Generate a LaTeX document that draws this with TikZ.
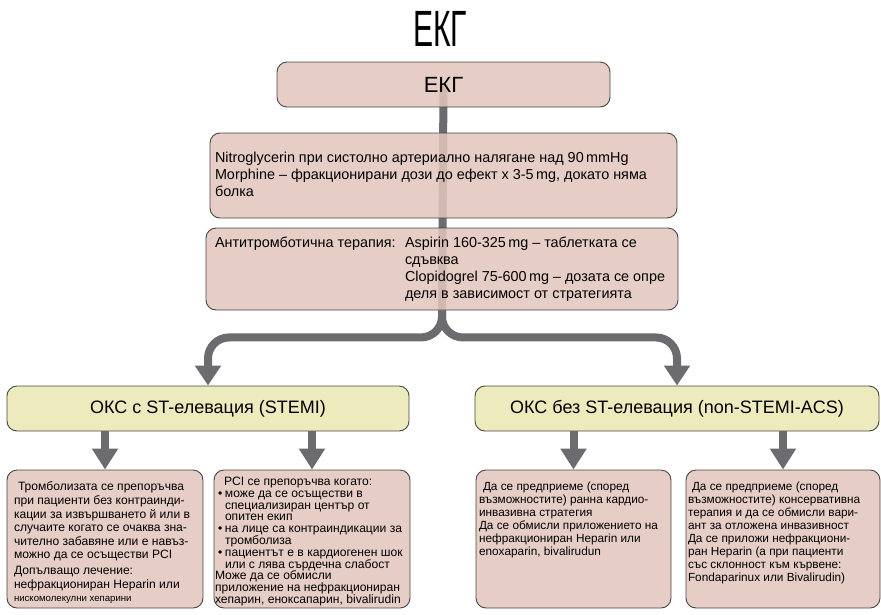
\documentclass[tikz,border=0pt]{standalone}
\usepackage{fontspec}
\setmainfont{Liberation Sans}
\usetikzlibrary{arrows.meta}

\definecolor{boxpink}{RGB}{226,197,188}
\definecolor{boxyellow}{RGB}{234,230,178}
\definecolor{linkgray}{RGB}{107,107,112}
\definecolor{edgegray}{RGB}{70,70,70}

\pgfdeclarelayer{background}
\pgfsetlayers{background,main}

% top-aligned text block of fixed height inside a card
\newcommand\cardtext[4]{\parbox[c][#1][t]{#2}{\raggedright\vspace*{#3}#4}}

\begin{document}
\begin{tikzpicture}[x=1pt,y=-1pt,
  card/.style={draw=edgegray, line width=0.9pt, rounded corners=10pt,
    inner sep=0pt, fill opacity=0.86, text opacity=1, text=black},
  pinkcard/.style={card, fill=boxpink},
  yellowcard/.style={card, fill=boxyellow},
  trunk/.style={draw=linkgray, line width=8pt},
  branch/.style={trunk, rounded corners=21pt, -{Triangle[width=25pt,length=20pt]}},
  drop/.style={trunk, -{Triangle[width=25pt,length=21pt]}},
  bigfont/.style={font=\fontsize{14.4}{17}\selectfont},
  smallfont/.style={font=\fontsize{12.1}{13.6}\selectfont},
]
\useasboundingbox (0,0) rectangle (881,614);

% title
\node (title) at (440,28.5) {\fontsize{51}{55}\selectfont\scalebox{0.59}[1]{ЕКГ}};

% upper column
\node[pinkcard, minimum width=333pt, minimum height=45pt] (ekg) at (443.5,84.5)
  {\fontsize{22}{26}\selectfont ЕКГ};

\node[pinkcard, bigfont, minimum width=467pt, minimum height=85pt] (nitro) at (443.5,175.5)
  {\cardtext{85pt}{457pt}{19pt}{%
    Nitroglycerin при систолно артериално налягане над 90\,mmHg\\
    Morphine – фракционирани дози до ефект х 3-5\,mg, докато няма\\
    болка}};

\node[pinkcard, bigfont, minimum width=472pt, minimum height=82pt] (anti) at (442,269)
  {\parbox[c][82pt][c]{454pt}{\raggedright
    \makebox[190pt][l]{Антитромботична терапия:}%
    \parbox[t]{262pt}{\raggedright
      Aspirin 160-325\,mg – таблетката се\\
      сдъвква\\
      Clopidogrel 75-600\,mg – дозата се опре\\
      деля в зависимост от стратегията}}};

% the two syndromes
\node[yellowcard, minimum width=402pt, minimum height=45pt] (stemi) at (208,408.5)
  {\fontsize{18}{20}\selectfont ОКС с ST-елевация (STEMI)};
\node[yellowcard, minimum width=404pt, minimum height=45pt] (nstemi) at (677,408.5)
  {\fontsize{18}{20}\selectfont ОКС без ST-елевация (non-STEMI-ACS)};

% treatment cards
\node[pinkcard, smallfont, minimum width=196pt, minimum height=138pt] (b1) at (105,539)
  {\cardtext{138pt}{182pt}{12pt}{%
    \hspace*{4pt}Тромболизата се препоръчва\\
    при пациенти без контраинди-\\
    кации за извършването й или в\\
    случаите когато се очаква зна-\\
    чително забавяне или е навъз-\\
    можно да се осъществи PCI\\[2pt]
    Допълващо лечение:\\
    нефракциониран Heparin или\\
    {\fontsize{9.6}{12}\selectfont нискомолекулни хепарини}}};

\node[pinkcard, font=\fontsize{12.1}{11.8}\selectfont, minimum width=196pt, minimum height=138pt] (b2) at (312,539)
  {\cardtext{138pt}{194pt}{7pt}{%
    \hspace*{9pt}PCI се препоръчва когато:\\
    \hspace*{3pt}\makebox[7pt][l]{\textbullet}може да се осъществи в\\
    \hspace*{10pt}специализиран център от\\
    \hspace*{10pt}опитен екип\\
    \hspace*{3pt}\makebox[7pt][l]{\textbullet}на лице са контраиндикации за\\
    \hspace*{10pt}тромболиза\\
    \hspace*{3pt}\makebox[7pt][l]{\textbullet}пациентът е в кардиогенен шок\\
    \hspace*{10pt}или с лява сърдечна слабост\\
    Може да се обмисли\\
    приложение на нефракциониран\\
    хепарин, еноксапарин, bivalirudin}};

\node[pinkcard, font=\fontsize{11.8}{13}\selectfont, minimum width=195pt, minimum height=138pt] (b3) at (573.5,539)
  {\cardtext{138pt}{189pt}{12pt}{%
    \hspace*{4pt}Да се предприеме (според\\
    възможностите) ранна кардио-\\
    инвазивна стратегия\\
    Да се обмисли приложението на\\
    нефракциониран Heparin или\\
    enoxaparin, bivalirudun}};

\node[pinkcard, font=\fontsize{11.8}{13}\selectfont, minimum width=194pt, minimum height=138pt] (b4) at (783,539)
  {\cardtext{138pt}{190pt}{12pt}{%
    \hspace*{4pt}Да се предприеме (според\\
    възможностите) консервативна\\
    терапия и да се обмисли вари-\\
    ант за отложена инвазивност\\
    Да се приложи нефракциони-\\
    ран Heparin (а при пациенти\\
    със склонност към кървене:\\
    Fondaparinux или Bivalirudin)}};

% trunk running behind the upper cards
\begin{pgfonlayer}{background}
  \draw[trunk] (ekg.center) -- (anti.south);
\end{pgfonlayer}

% split into the two syndromes
\draw[branch] (anti.south) -- ++(0,27) -| (stemi.north);
\draw[branch] (anti.south) -- ++(0,27) -| (nstemi.north);

% drops to the treatment cards
\draw[drop] (stemi.south -| b1.north) -- (b1.north);
\draw[drop] (stemi.south -| b2.north) -- (b2.north);
\draw[drop] (nstemi.south -| b3.north) -- (b3.north);
\draw[drop] (nstemi.south -| b4.north) -- (b4.north);
\end{tikzpicture}
\end{document}
